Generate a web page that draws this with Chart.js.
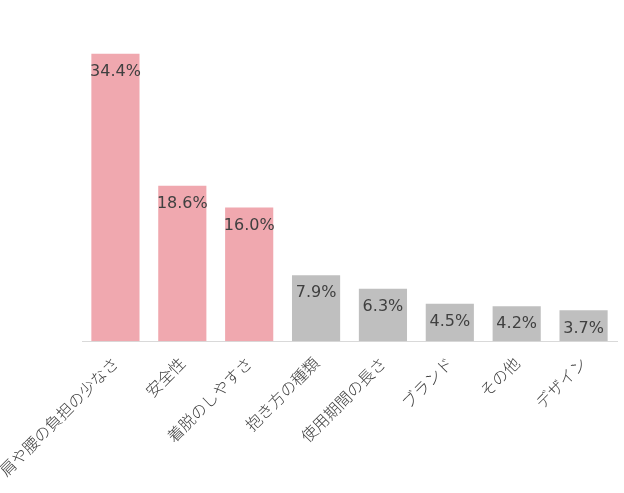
<!DOCTYPE html>
<html>
<head>
<meta charset="utf-8">
<script src="https://cdn.jsdelivr.net/npm/chart.js@4"></script>
<style>
  html, body { margin: 0; padding: 0; background: #fff; }
  #wrap { width: 624px; height: 493px; }
</style>
</head>
<body>
<div id="wrap"><canvas id="chart"></canvas></div>
<script>
const categories = ["肩や腰の負担の少なさ", "安全性", "着脱のしやすさ", "抱き方の種類", "使用期間の長さ", "ブランド", "その他", "デザイン"];
const values = [34.4, 18.6, 16.0, 7.9, 6.3, 4.5, 4.2, 3.7];
const barColors = ["#F0A8AF", "#F0A8AF", "#F0A8AF", "#BFBFBF", "#BFBFBF", "#BFBFBF", "#BFBFBF", "#BFBFBF"];

const valueLabels = {
    id: "valueLabels",
    afterDatasetsDraw(chart) {
        const ctx = chart.ctx;
        const meta = chart.getDatasetMeta(0);
        ctx.save();
        ctx.font = "16px 'DejaVu Sans', sans-serif";
        ctx.fillStyle = "#404040";
        ctx.textAlign = "center";
        ctx.textBaseline = "middle";
        meta.data.forEach((bar, i) => {
            ctx.fillText(values[i].toFixed(1) + "%", bar.x, bar.y + 18);
        });
        ctx.restore();
    }
};

new Chart(document.getElementById("chart").getContext("2d"), {
    type: "bar",
    data: {
        labels: categories,
        datasets: [{
            data: values,
            backgroundColor: barColors,
            categoryPercentage: 0.72,
            barPercentage: 1.0
        }]
    },
    options: {
        responsive: true,
        maintainAspectRatio: false,
        animation: false,
        layout: { padding: { top: 7, right: 7, left: 0, bottom: 9 } },
        plugins: { legend: { display: false }, tooltip: { enabled: false } },
        scales: {
            x: {
                grid: { display: false },
                border: { display: true, color: "#D9D9D9", width: 1 },
                afterFit(scale) {
                    scale.paddingLeft = 82;
                },
                ticks: {
                    minRotation: 45,
                    maxRotation: 45,
                    color: "#404040",
                    padding: 4,
                    font: { family: "'Noto Sans CJK JP', sans-serif", size: 16, weight: 300 }
                }
            },
            y: {
                display: false,
                min: 0,
                max: 40
            }
        }
    },
    plugins: [valueLabels]
});
</script>
</body>
</html>
